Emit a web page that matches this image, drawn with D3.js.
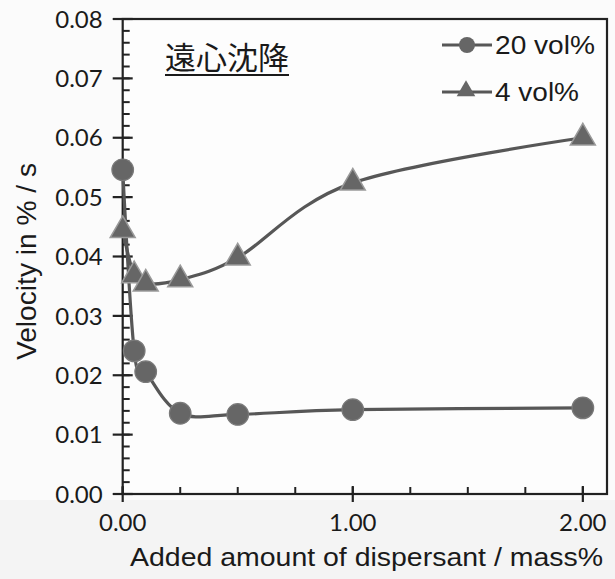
<!DOCTYPE html>
<html><head><meta charset="utf-8">
<script src="https://cdn.jsdelivr.net/npm/d3@7"></script>
<style>
html,body{margin:0;padding:0;background:#fbfbfb;}
svg{display:block;}
</style></head>
<body>
<script>
const dispersant = [0, 0.05, 0.1, 0.25, 0.5, 1.0, 2.0];
const vol20 = [0.0546, 0.0241, 0.0206, 0.0136, 0.0134, 0.0142, 0.0145];
const vol4  = [0.0444, 0.0368, 0.0354, 0.0361, 0.0398, 0.0524, 0.0600];
const seriesNames = ["20 vol%", "4 vol%"];
const yTicks = [0, 0.01, 0.02, 0.03, 0.04, 0.05, 0.06, 0.07, 0.08];
const xTicks = [0, 1, 2];
const titleJa = "遠心沈降";
const xTitle = "Added amount of dispersant / mass%";
const yTitle = "Velocity in % / s";

const W = 615, H = 579;
const svg = d3.select("body").append("svg").attr("width", W).attr("height", H);
svg.append("rect").attr("width", W).attr("height", H).attr("fill", "#fbfbfb");
svg.append("rect").attr("x",0).attr("y",500).attr("width",W).attr("height",79).attr("fill","#f4f4f4");

const L = 122.7, R = 607, T = 19, B = 494;
const x = d3.scaleLinear().domain([0, 2.105]).range([L, R]);
const y = d3.scaleLinear().domain([0, 0.08]).range([B, T]);

const ink = "#222";
const sans = "'Liberation Sans', Arial, sans-serif";
// plot frame
svg.append("rect").attr("x", L).attr("y", T).attr("width", R - L).attr("height", B - T)
  .attr("fill", "#fdfdfd").attr("stroke", ink).attr("stroke-width", 2.2);

// y axis ticks
const tickFont = "Lato, 'Open Sans', sans-serif";
const yMinor = d3.range(0, 0.0801, 0.002);
svg.append("g").selectAll("line").data(yMinor).join("line")
  .attr("x1", L).attr("x2", L + 7).attr("y1", d => y(d)).attr("y2", d => y(d))
  .attr("stroke", ink).attr("stroke-width", 2);
svg.append("g").selectAll("line").data(yTicks).join("line")
  .attr("x1", L - 10).attr("x2", L + 10).attr("y1", d => y(d)).attr("y2", d => y(d))
  .attr("stroke", ink).attr("stroke-width", 2.2);
svg.append("g").selectAll("text").data(yTicks).join("text")
  .attr("x", L - 20).attr("y", d => y(d)).attr("dy", "0.36em")
  .attr("text-anchor", "end").attr("font-family", tickFont).attr("font-size", 24)
  .attr("fill", "#1a1a1a").text(d => d3.format(".2f")(d));

// x axis ticks
const xMinor = d3.range(0, 2.01, 0.25);
svg.append("g").selectAll("line").data(xMinor).join("line")
  .attr("x1", d => x(d)).attr("x2", d => x(d)).attr("y1", B).attr("y2", B - 7)
  .attr("stroke", ink).attr("stroke-width", 2);
svg.append("g").selectAll("line").data(xTicks).join("line")
  .attr("x1", d => x(d)).attr("x2", d => x(d)).attr("y1", B - 8).attr("y2", B + 8)
  .attr("stroke", ink).attr("stroke-width", 2.2);
svg.append("g").selectAll("text").data(xTicks).join("text")
  .attr("x", d => x(d)).attr("y", 531)
  .attr("text-anchor", "middle").attr("font-family", tickFont).attr("font-size", 24)
  .attr("fill", "#1a1a1a").text(d => d3.format(".2f")(d));

// titles
svg.append("text").attr("x", 130).attr("y", 566)
  .attr("font-family", sans).attr("font-size", 25)
  .attr("textLength", 473).attr("lengthAdjust", "spacingAndGlyphs")
  .attr("fill", "#1a1a1a").text(xTitle);
svg.append("text").attr("transform", `translate(36,360) rotate(-90)`)
  .attr("font-family", sans).attr("font-size", 27)
  .attr("textLength", 197).attr("lengthAdjust", "spacingAndGlyphs")
  .attr("fill", "#1a1a1a").text(yTitle);

svg.append("text").attr("x", 165).attr("y", 69)
  .attr("font-family", "'Noto Sans CJK JP', sans-serif").attr("font-size", 31)
  .attr("fill", "#1a1a1a").text(titleJa);
svg.append("line").attr("x1", 165).attr("x2", 289).attr("y1", 75).attr("y2", 75)
  .attr("stroke", "#1a1a1a").attr("stroke-width", 2);

// series
const lineCol = "#575757", markCol = "#666", markEdge = "#9a9a9a";
const line = d3.line().x(d => x(d[0])).y(d => y(d[1])).curve(d3.curveCatmullRom.alpha(0));
const s20 = dispersant.map((d, i) => [d, vol20[i]]);
const s4 = dispersant.map((d, i) => [d, vol4[i]]);
[s20, s4].forEach(s => svg.append("path").attr("d", line(s)).attr("fill", "none")
  .attr("stroke", lineCol).attr("stroke-width", 3.2));

const tri = d3.symbol().type(d3.symbolTriangle).size(270);
svg.append("g").selectAll("path").data(s4).join("path")
  .attr("d", tri).attr("transform", d => `translate(${x(d[0])},${y(d[1])})`)
  .attr("fill", markCol).attr("stroke", markEdge).attr("stroke-width", 1.5);
svg.append("g").selectAll("circle").data(s20).join("circle")
  .attr("cx", d => x(d[0])).attr("cy", d => y(d[1])).attr("r", 10.8)
  .attr("fill", markCol).attr("stroke", "#7a7a7a").attr("stroke-width", 1.2);

// legend
const lg = svg.append("g");
const legY = [45, 92];
const legW = [100, 84];
legY.forEach((ly, i) => {
  lg.append("line").attr("x1", 442).attr("x2", 492).attr("y1", ly).attr("y2", ly)
    .attr("stroke", lineCol).attr("stroke-width", 3.2);
  if (i === 0) lg.append("circle").attr("cx", 467).attr("cy", ly).attr("r", 8).attr("fill", markCol);
  else lg.append("path").attr("d", d3.symbol().type(d3.symbolTriangle).size(150)())
    .attr("transform", `translate(466,${ly - 1})`).attr("fill", markCol);
  lg.append("text").attr("x", 495).attr("y", ly + 9)
    .attr("font-family", sans).attr("font-size", 25)
    .attr("textLength", legW[i]).attr("lengthAdjust", "spacingAndGlyphs")
    .attr("fill", "#1a1a1a").text(seriesNames[i]);
});
</script>
</body></html>
